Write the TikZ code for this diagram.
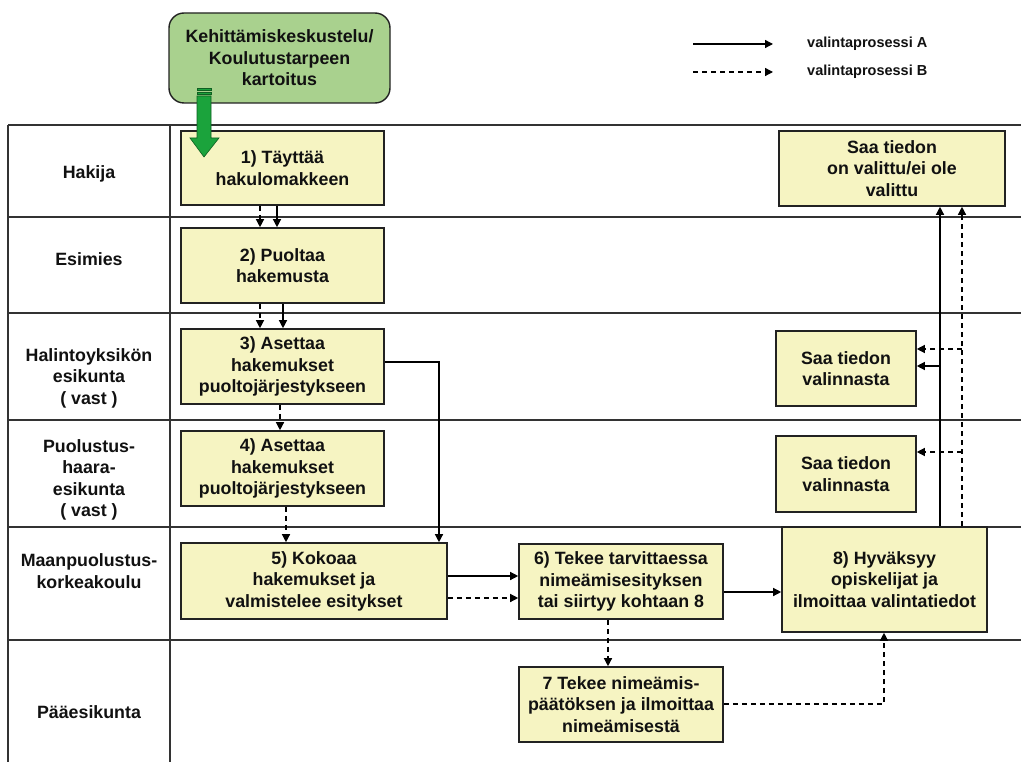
\documentclass[tikz,border=0pt]{standalone}
\usepackage{fontspec}
\setmainfont{Liberation Sans}
\usetikzlibrary{arrows.meta}
\definecolor{boxfill}{HTML}{F6F4C2}
\definecolor{boxline}{HTML}{222222}
\definecolor{greenfill}{HTML}{A9D18E}
\definecolor{arrowgreen}{HTML}{1BA33C}
\definecolor{arrowedge}{HTML}{0F5F22}
\definecolor{laneline}{HTML}{333333}
\definecolor{txt}{HTML}{111111}
\begin{document}
\begin{tikzpicture}[x=1pt,y=-1pt,
  every node/.style={font=\fontsize{17.8}{21.5}\selectfont\bfseries, text=txt, align=center, inner sep=0pt},
  stepbox/.style={draw=boxline, line width=1.6pt, fill=boxfill, rectangle},
  startbox/.style={draw=boxline, line width=1.4pt, fill=greenfill, rounded corners=15pt},
  lanelabel/.style={},
  lane/.style={draw=laneline, line width=1.4pt},
  flowa/.style={draw=black, line width=1.3pt, -{Triangle[length=8pt,width=8pt]}},
  flowb/.style={draw=black, line width=1.3pt, dash pattern=on 5pt off 4pt, -{Triangle[length=8pt,width=8pt]}},
  legendtext/.style={font=\fontsize{14.5}{17}\selectfont\bfseries, anchor=west}
]
\useasboundingbox (0,0) rectangle (1021,762);
\fill[white] (0,0) rectangle (1021,762);

% lanes
\foreach \yy in {125,217,313,420,527,640} {\draw[lane] (8,\yy) -- (1021,\yy);}
\draw[lane] (8,125) -- (8,762);
\draw[lane] (170,125) -- (170,762);

% lane labels
\node[lanelabel] (l1) at (89,174) {Hakija};
\node[lanelabel] (l2) at (89,259) {Esimies};
\node[lanelabel] (l3) at (89,378) {Halintoyksikön\\esikunta\\( vast )};
\node[lanelabel] (l4) at (89,480) {Puolustus-\\haara-\\esikunta\\( vast )};
\node[lanelabel] (l5) at (89,571) {Maanpuolustus-\\korkeakoulu};
\node[lanelabel] (l6) at (89,712) {Pääesikunta};

% start box
\node[startbox, minimum width=221pt, minimum height=90pt] (start) at (279.5,58) {Kehittämiskeskustelu/\\Koulutustarpeen\\kartoitus};

% step boxes
\node[stepbox, minimum width=203pt, minimum height=74pt] (b1) at (282.5,168) {1) Täyttää\\hakulomakkeen};
\node[stepbox, minimum width=203pt, minimum height=75pt] (b2) at (282.5,265.5) {2) Puoltaa\\hakemusta};
\node[stepbox, minimum width=203pt, minimum height=75pt] (b3) at (282.5,366.5) {3) Asettaa\\hakemukset\\puoltojärjestykseen};
\node[stepbox, minimum width=203pt, minimum height=75pt] (b4) at (282.5,468.5) {4) Asettaa\\hakemukset\\puoltojärjestykseen};
\node[stepbox, minimum width=266pt, minimum height=76pt] (b5) at (314,581) {5) Kokoaa\\hakemukset ja\\valmistelee esitykset};
\node[stepbox, minimum width=204pt, minimum height=75pt] (b6) at (621,581.5) {6) Tekee tarvittaessa\\nimeämisesityksen\\tai siirtyy kohtaan 8};
\node[stepbox, minimum width=204pt, minimum height=75pt] (b7) at (621,704.5) {7 Tekee nimeämis-\\päätöksen ja ilmoittaa\\nimeämisestä};
\node[stepbox, minimum width=205pt, minimum height=105pt] (b8) at (884.5,579.5) {8) Hyväksyy\\opiskelijat ja\\ilmoittaa valintatiedot};
\node[stepbox, minimum width=226pt, minimum height=75pt] (s1) at (892,168.5) {Saa tiedon\\on valittu/ei ole\\valittu};
\node[stepbox, minimum width=140pt, minimum height=75pt] (s2) at (846,368.5) {Saa tiedon\\valinnasta};
\node[stepbox, minimum width=140pt, minimum height=76pt] (s3) at (846,474) {Saa tiedon\\valinnasta};

% green arrow
\filldraw[fill=arrowgreen, draw=arrowedge, line width=0.6pt] (197,88) rectangle (211,90);
\filldraw[fill=arrowgreen, draw=arrowedge, line width=0.6pt] (197,92) rectangle (211,94);
\filldraw[fill=arrowgreen, draw=arrowedge, line width=0.6pt]
  (197,96) -- (211,96) -- (211,138) -- (219,138) -- (204,157) -- (190,138) -- (197,138) -- cycle;

% helper coordinates
\coordinate (xa12) at (277,0);
\coordinate (xd12) at (260,0);
\coordinate (xa23) at (283,0);
\coordinate (xd34) at (280,0);
\coordinate (xd45) at (286,0);
\coordinate (y35) at (0,362);
\coordinate (x35) at (439,0);
\coordinate (ya56) at (0,576);
\coordinate (yd56) at (0,598);
\coordinate (ya68) at (0,592);
\coordinate (xd67) at (608,0);
\coordinate (yd78) at (0,704);
\coordinate (xd78) at (884,0);
\coordinate (xa8) at (940,0);
\coordinate (xd8) at (962,0);
\coordinate (ja2) at (940,366);
\coordinate (jb2) at (962,349);
\coordinate (jb3) at (962,452);

% connectors
\draw[flowa] (b1.south -| xa12) -- (b2.north -| xa12);
\draw[flowb] (b1.south -| xd12) -- (b2.north -| xd12);
\draw[flowa] (b2.south -| xa23) -- (b3.north -| xa23);
\draw[flowb] (b2.south -| xd12) -- (b3.north -| xd12);
\draw[flowb] (b3.south -| xd34) -- (b4.north -| xd34);
\draw[flowb] (b4.south -| xd45) -- (b5.north -| xd45);
\draw[flowa] (b3.east |- y35) -| (b5.north -| x35);
\draw[flowa] (b5.east |- ya56) -- (b6.west |- ya56);
\draw[flowb] (b5.east |- yd56) -- (b6.west |- yd56);
\draw[flowa] (b6.east |- ya68) -- (b8.west |- ya68);
\draw[flowb] (b6.south -| xd67) -- (b7.north -| xd67);
\draw[flowb] (b7.east |- yd78) -| (b8.south -| xd78);
\draw[flowa] (b8.north -| xa8) -- (s1.south -| xa8);
\draw[flowb] (b8.north -| xd8) -- (s1.south -| xd8);
\draw[flowa] (ja2) -- (s2.east |- ja2);
\draw[flowb] (jb2) -- (s2.east |- jb2);
\draw[flowb] (jb3) -- (s3.east |- jb3);

% legend
\coordinate (la1) at (693,44);
\coordinate (la2) at (773,44);
\coordinate (lb1) at (693,72);
\coordinate (lb2) at (773,72);
\draw[flowa] (la1) -- (la2);
\draw[flowb] (lb1) -- (lb2);
\node[legendtext] (lta) at (807,44) {valintaprosessi A};
\node[legendtext] (ltb) at (807,72) {valintaprosessi B};
\end{tikzpicture}
\end{document}
